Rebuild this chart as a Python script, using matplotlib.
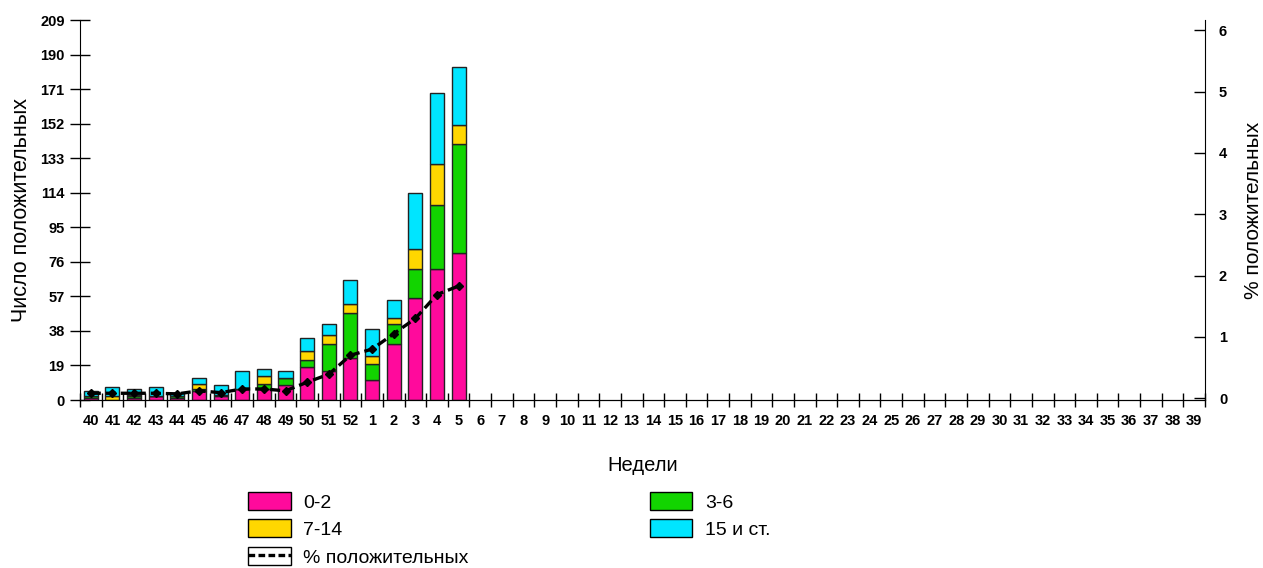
import matplotlib
matplotlib.use("Agg")
import matplotlib.pyplot as plt
from matplotlib.patches import Patch
from matplotlib.lines import Line2D

plt.rcParams['font.family'] = ['Liberation Sans', 'DejaVu Sans']

weeks = [str(w) for w in list(range(40, 53)) + list(range(1, 40))]

# counts by age group for weeks 40..5, the rest of the season is empty
age_0_2 = [1, 0, 1, 2, 1, 5, 2, 6, 6, 8, 18, 16, 23, 11, 31, 56, 72, 81]
age_3_6 = [1, 0, 1, 0, 1, 1, 1, 0, 3, 4, 4, 15, 25, 9, 11, 16, 35, 60]
age_7_14 = [0, 2, 1, 0, 0, 3, 0, 0, 4, 0, 5, 5, 5, 4, 3, 11, 23, 10]
age_15 = [3, 5, 3, 5, 2, 3, 5, 10, 4, 4, 7, 6, 13, 15, 10, 31, 39, 32]
pct_pos = [0.08, 0.08, 0.08, 0.08, 0.07, 0.12, 0.09, 0.15, 0.15, 0.12,
           0.26, 0.39, 0.70, 0.80, 1.05, 1.30, 1.69, 1.83]

n = len(age_0_2)
x = list(range(n))
colors = ["#FF0A9C", "#12D400", "#FFD700", "#00E5FF"]
labels = ["0-2", "3-6", "7-14", "15 и ст."]

fig = plt.figure(figsize=(12.63, 5.68), dpi=100)
ax = fig.add_axes([80 / 1263, 1 - 400 / 568, 1125 / 1263, 380 / 568])

bottom = [0] * n
for vals, c, lab in zip([age_0_2, age_3_6, age_7_14, age_15], colors, labels):
    ax.bar(x, vals, bottom=bottom, width=0.65, color=c, edgecolor="#222222",
           linewidth=1, label=lab, zorder=2)
    bottom = [b + v for b, v in zip(bottom, vals)]

ax.set_xlim(-0.5, len(weeks) - 0.5)
ax.set_ylim(0, 209)
ax.set_yticks(range(0, 210, 19))
ax.set_xticks(range(len(weeks)))
ax.set_xticklabels(weeks)
ax.set_xticks([i - 0.5 for i in range(len(weeks) + 1)], minor=True)
ax.tick_params(axis="x", which="major", length=0, pad=10, labelsize=10.5)
ax.tick_params(axis="x", which="minor", length=10, direction="inout", width=1)
ax.tick_params(axis="y", length=14, direction="inout", width=1, pad=4, labelsize=10.5)
for t in ax.get_xticklabels() + ax.get_yticklabels():
    t.set_fontweight("bold")
ax.spines["top"].set_visible(False)
ax.spines["right"].set_visible(False)

ax.set_xlabel("Недели", fontsize=14.5, labelpad=20)
ax.set_ylabel("Число положительных", fontsize=15.5)
ax.yaxis.set_label_coords(-0.043, 0.5)

ax2 = ax.twinx()
ax2.plot(x, pct_pos, color="black", linestyle=(0, (3, 1.5)), linewidth=2.4,
         marker="D", markersize=4, label="% положительных")
ax2.set_ylim(-0.03, 6.17)
ax2.set_yticks(range(0, 7))
ax2.tick_params(axis="y", length=8, direction="in", width=1, pad=10, labelsize=10.5)
for t in ax2.get_yticklabels():
    t.set_fontweight("bold")
ax2.spines["top"].set_visible(False)
ax2.spines["left"].set_visible(False)
ax2.set_ylabel("% положительных", fontsize=15)
ax2.yaxis.set_label_coords(1.0345, 0.5)

handles = [Patch(facecolor=colors[0], edgecolor="black"),
           Patch(facecolor=colors[2], edgecolor="black"),
           (Patch(facecolor="white", edgecolor="black"),
            Line2D([], [], color="black", linestyle=(0, (2, 1)), linewidth=2.4)),
           Patch(facecolor=colors[1], edgecolor="black"),
           Patch(facecolor=colors[3], edgecolor="black")]
names = ["0-2", "7-14", "% положительных", "3-6", "15 и ст."]
fig.legend(handles, names, ncol=2, loc="upper left",
           bbox_to_anchor=(248 / 1263, 1 - 492 / 568), frameon=False,
           fontsize=14, handlelength=2.2, handleheight=1.05, handletextpad=0.65,
           labelspacing=0.4, borderpad=0, borderaxespad=0, columnspacing=9.3)

fig.savefig("out.png", dpi=100)
